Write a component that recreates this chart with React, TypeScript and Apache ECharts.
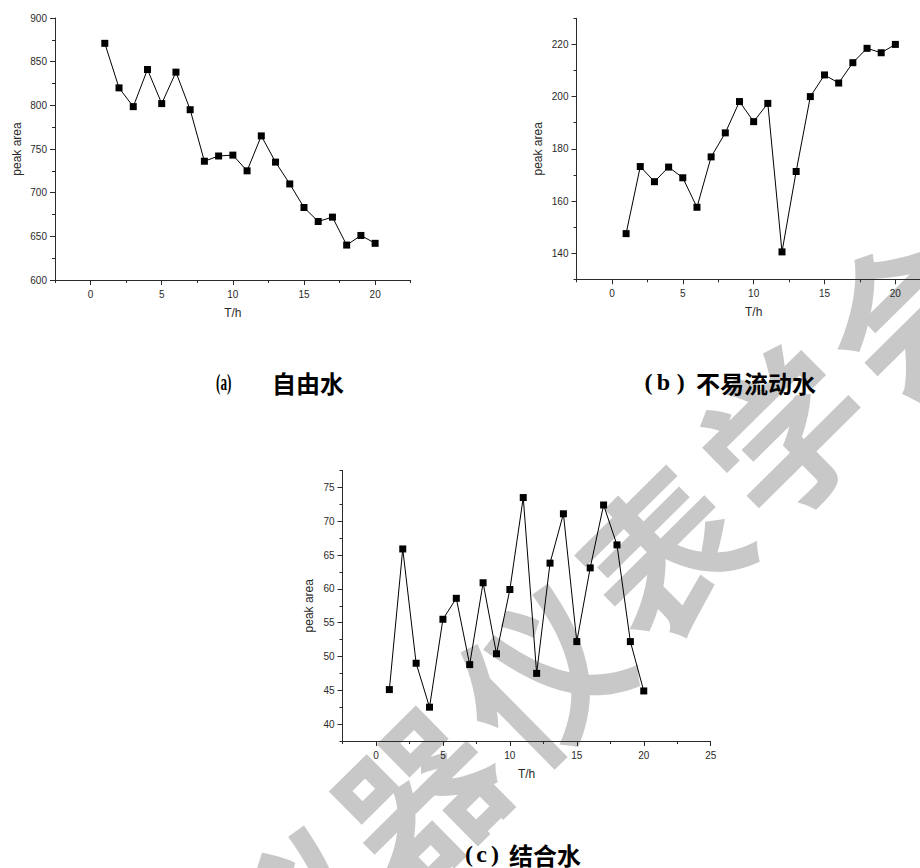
import React, { useEffect, useRef } from "react";
import * as echarts from "echarts";

// ---- data ----
const hours = [1, 2, 3, 4, 5, 6, 7, 8, 9, 10, 11, 12, 13, 14, 15, 16, 17, 18, 19, 20];
const freeWater = [871, 820, 798.5, 841, 802, 838, 795, 736, 742, 743, 725, 765, 735, 710, 683, 667, 672, 640, 651, 642];
const immobileWater = [147.5, 173.2, 167.4, 173, 168.9, 157.6, 176.9, 186.1, 198.1, 190.4, 197.4, 140.5, 171.3, 200, 208.3, 205.2, 213, 218.5, 216.8, 220];
const boundWater = [45.1, 65.9, 49.0, 42.5, 55.5, 58.6, 48.8, 60.9, 50.4, 59.9, 73.5, 47.5, 63.8, 71.1, 52.2, 63.1, 72.4, 66.5, 52.2, 44.9];

const xTicksAB = [0, 5, 10, 15, 20];
const xMinorAB = [-2.5, 2.5, 7.5, 12.5, 17.5, 22.5];
const xTicksC = [0, 5, 10, 15, 20, 25];
const xMinorC = [-2.5, 2.5, 7.5, 12.5, 17.5, 22.5];
const yTicksA = [600, 650, 700, 750, 800, 850, 900];
const yMinorA = [625, 675, 725, 775, 825, 875];
const yTicksB = [140, 160, 180, 200, 220];
const yMinorB = [130, 150, 170, 190, 210, 230];
const yTicksC = [40, 45, 50, 55, 60, 65, 70, 75];
const yMinorC = [37.5, 42.5, 47.5, 52.5, 57.5, 62.5, 67.5, 72.5, 77.5];

const xName = "T/h";
const yName = "peak area";
const watermarkChars = ["仪", "器", "仪", "表", "学", "会"];

const FONT = "'Liberation Sans', Arial, sans-serif";
const AX = "#2a2a2a";

type Panel = {
  rect: { left: number; top: number; width: number; height: number };
  xMin: number; xMax: number; yMin: number; yMax: number;
  xMajor: number[]; xMinor: number[]; yMajor: number[]; yMinor: number[];
  values: number[]; yGap: number;
};

const panels: Panel[] = [
  { rect: { left: 55, top: 18, width: 355.7, height: 262 }, xMin: -2.5, xMax: 22.5, yMin: 600, yMax: 900,
    xMajor: xTicksAB, xMinor: xMinorAB, yMajor: yTicksA, yMinor: yMinorA, values: freeWater, yGap: 32 },
  { rect: { left: 576.5, top: 18.3, width: 354.3, height: 261 }, xMin: -2.5, xMax: 22.5, yMin: 130, yMax: 230,
    xMajor: xTicksAB, xMinor: xMinorAB, yMajor: yTicksB, yMinor: yMinorB, values: immobileWater, yGap: 33 },
  { rect: { left: 342.5, top: 470.5, width: 368.2, height: 270.5 }, xMin: -2.5, xMax: 25, yMin: 37.5, yMax: 77.5,
    xMajor: xTicksC, xMinor: xMinorC, yMajor: yTicksC, yMinor: yMinorC, values: boundWater, yGap: 27.5 },
];

function buildOption() {
  const grid: any[] = [];
  const xAxis: any[] = [];
  const yAxis: any[] = [];
  const series: any[] = [];
  panels.forEach((p, i) => {
    const g = i * 2;
    grid.push({ ...p.rect, containLabel: false, outerBoundsMode: "none" });
    grid.push({ ...p.rect, containLabel: false, outerBoundsMode: "none" });
    const lineStyle = { color: AX, width: 1 };
    xAxis.push({
      type: "value", gridIndex: g, min: p.xMin, max: p.xMax,
      axisLine: { show: true, onZero: false, lineStyle },
      axisTick: { show: true, inside: false, length: 5, lineStyle, customValues: p.xMajor },
      axisLabel: { show: true, customValues: p.xMajor, fontSize: 10, color: AX, fontFamily: FONT, margin: 9 },
      splitLine: { show: false },
      name: xName, nameLocation: "middle", nameGap: 27,
      nameTextStyle: { fontSize: 12, color: AX, fontFamily: FONT },
    });
    xAxis.push({
      type: "value", gridIndex: g + 1, min: p.xMin, max: p.xMax,
      axisLine: { show: false, onZero: false },
      axisTick: { show: true, inside: false, length: 3, lineStyle, customValues: p.xMinor },
      axisLabel: { show: false },
      splitLine: { show: false },
    });
    yAxis.push({
      type: "value", gridIndex: g, min: p.yMin, max: p.yMax,
      axisLine: { show: true, onZero: false, lineStyle },
      axisTick: { show: true, inside: false, length: 5, lineStyle, customValues: p.yMajor },
      axisLabel: { show: true, customValues: p.yMajor, fontSize: 10, color: AX, fontFamily: FONT, margin: 8 },
      splitLine: { show: false },
      name: yName, nameLocation: "middle", nameGap: p.yGap,
      nameTextStyle: { fontSize: 12, color: AX, fontFamily: FONT },
    });
    yAxis.push({
      type: "value", gridIndex: g + 1, min: p.yMin, max: p.yMax,
      axisLine: { show: false, onZero: false },
      axisTick: { show: true, inside: false, length: 3, lineStyle, customValues: p.yMinor },
      axisLabel: { show: false },
      splitLine: { show: false },
    });
    series.push({
      type: "line", xAxisIndex: g, yAxisIndex: g,
      data: hours.map((h, k) => [h, p.values[k]]),
      symbol: "rect", symbolSize: 7, showSymbol: true,
      itemStyle: { color: "#000" },
      lineStyle: { color: "#000", width: 1 },
      z: 5,
    });
  });

  const serif = "'Liberation Serif', 'Times New Roman', serif";
  const cjk = "'Noto Sans CJK SC', sans-serif";
  const capText = (x: number, y: number, text: string, font: string, align: string, scaleX = 1) => ({
    type: "text", x, y, scaleX, z: 10,
    style: { text, fill: "#000", font: `bold 24px ${font}`, textAlign: align, textVerticalAlign: "middle" },
  });

  const wmStart = { x: 292, y: 912 };
  const wmStep = { x: 122, y: -121 };
  const watermark = watermarkChars.map((c, k) => ({
    type: "text",
    x: wmStart.x + wmStep.x * k,
    y: wmStart.y + wmStep.y * k,
    rotation: 0.78,
    z: -10, zlevel: 0,
    silent: true,
    style: { text: c, fill: "#c8c8c8", font: `bold 160px ${cjk}`, textAlign: "center", textVerticalAlign: "middle" },
  }));

  const graphic = [
    ...watermark,
    capText(223.7, 382, "(a)", serif, "center", 0.55),
    capText(272, 382, "自由水", cjk, "left"),
    capText(648.4, 382, "(", serif, "center"),
    capText(663.3, 382, "b", serif, "center"),
    capText(680.8, 382, ")", serif, "center"),
    capText(696, 382, "不易流动水", cjk, "left"),
    capText(469, 854, "(", serif, "center"),
    capText(481.7, 854, "c", serif, "center"),
    capText(495, 854, ")", serif, "center"),
    capText(509, 854, "结合水", cjk, "left"),
  ];

  return { animation: false, backgroundColor: "#ffffff", grid, xAxis, yAxis, series, graphic };
}

export default function App() {
  const ref = useRef<HTMLDivElement>(null);
  useEffect(() => {
    if (!ref.current) return;
    const chart = echarts.init(ref.current, undefined, { renderer: "svg" });
    chart.setOption(buildOption() as any);
    return () => chart.dispose();
  }, []);
  return (
    <div
      ref={ref}
      style={{ position: "absolute", left: 0, top: 0, width: 920, height: 868, background: "#fff" }}
    />
  );
}
